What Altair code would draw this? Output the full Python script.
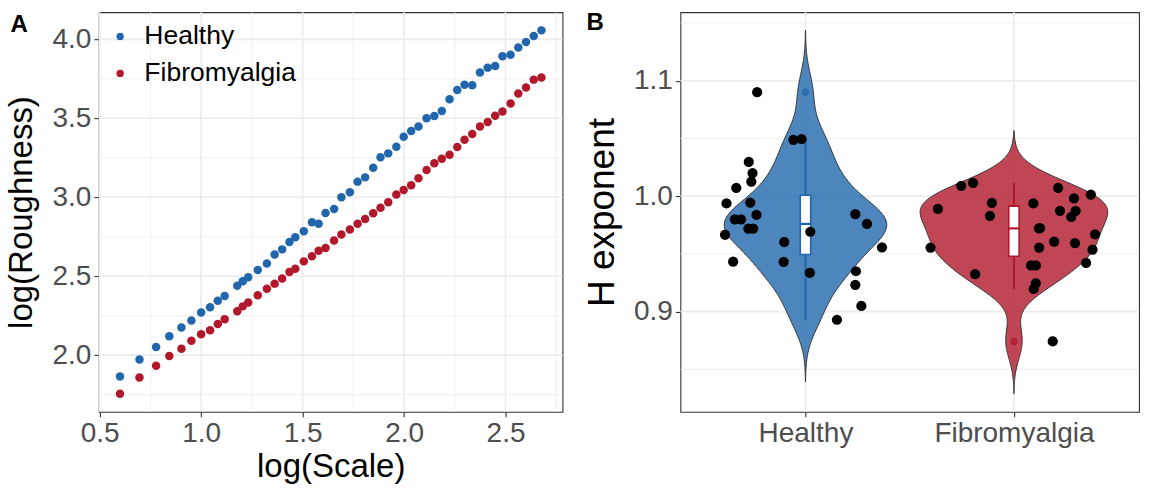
import numpy as np
import pandas as pd
import altair as alt

FONT = "Liberation Sans"
groups = ["Healthy", "Fibromyalgia"]
group_colors = ["#2166AC", "#B2182B"]

# ---- Panel A: roughness against observation scale (log-log) ----
log_scale = [0.600, 0.696, 0.778, 0.843, 0.903, 0.952, 1.000, 1.044, 1.082, 1.116,
             1.178, 1.205, 1.232, 1.279, 1.324, 1.362, 1.399, 1.435, 1.464, 1.506,
             1.546, 1.579, 1.613, 1.655, 1.691, 1.733, 1.771, 1.808, 1.848, 1.884,
             1.922, 1.962, 1.998, 2.035, 2.071, 2.111, 2.149, 2.186, 2.224, 2.262,
             2.298, 2.336, 2.374, 2.412, 2.449, 2.485, 2.525, 2.563, 2.601, 2.639, 2.677]
rough_healthy = [1.865, 1.973, 2.051, 2.120, 2.175, 2.219, 2.270, 2.303, 2.345, 2.375,
                 2.440, 2.468, 2.493, 2.540, 2.580, 2.638, 2.670, 2.716, 2.747, 2.785,
                 2.842, 2.832, 2.900, 2.926, 3.000, 3.032, 3.099, 3.126, 3.187, 3.253,
                 3.278, 3.320, 3.383, 3.419, 3.448, 3.501, 3.514, 3.547, 3.621, 3.680,
                 3.712, 3.710, 3.790, 3.821, 3.832, 3.893, 3.903, 3.949, 3.983, 4.021, 4.057]
rough_fibro = [1.756, 1.859, 1.933, 1.994, 2.040, 2.091, 2.133, 2.158, 2.198, 2.227,
               2.278, 2.309, 2.333, 2.379, 2.421, 2.453, 2.486, 2.526, 2.547, 2.594,
               2.627, 2.661, 2.678, 2.726, 2.764, 2.796, 2.832, 2.863, 2.899, 2.933,
               2.968, 3.017, 3.046, 3.076, 3.120, 3.173, 3.215, 3.244, 3.269, 3.318,
               3.364, 3.400, 3.448, 3.476, 3.516, 3.543, 3.594, 3.657, 3.695, 3.745, 3.758]

a_x_major = [0.5, 1.0, 1.5, 2.0, 2.5]
a_x_minor = [0.75, 1.25, 1.75, 2.25, 2.75]
a_y_major = [2.0, 2.5, 3.0, 3.5, 4.0]
a_y_minor = [1.75, 2.25, 2.75, 3.25, 3.75]

# ---- Panel B: Hurst exponent per participant ----
h_healthy = [1.090, 1.0488, 1.0494, 1.0297, 1.020, 1.0127, 1.0072, 0.9937, 0.9945,
             0.980, 0.980, 0.9838, 0.972, 0.972, 0.9665, 0.9433, 0.9603, 0.9432,
             0.9692, 0.9336, 0.9844, 0.976, 0.9556, 0.935, 0.9233, 0.905, 0.893]
jit_healthy = [-0.232, -0.058, -0.019, -0.272, -0.254, -0.260, -0.332, -0.379, -0.265,
               -0.339, -0.309, -0.235, -0.274, -0.251, -0.386, -0.347, -0.102, -0.105,
               0.023, 0.021, 0.239, 0.295, 0.367, 0.242, 0.239, 0.268, 0.151]
h_fibro = [1.009, 1.0115, 0.989, 0.9555, 0.9942, 0.983, 0.9325, 1.0072, 1.0014, 0.998,
           0.9937, 0.9873, 0.9873, 0.982, 0.9723, 0.9721, 0.967, 0.9607, 0.9593, 0.9555,
           0.9537, 0.9422, 0.940, 0.940, 0.9246, 0.9197, 0.8742]
jit_fibro = [-0.253, -0.196, -0.365, -0.400, -0.106, -0.115, -0.186, 0.212, 0.369, 0.288,
             0.093, 0.221, 0.296, 0.275, 0.125, 0.120, 0.389, 0.193, 0.293, 0.121,
             0.377, 0.346, 0.082, 0.105, 0.105, 0.095, 0.186]

b_y_major = [0.9, 1.0, 1.1]
b_y_minor = [0.85, 0.95, 1.05, 1.15]
b_x_major = [1, 2]

GRID = "#EBEBEB"
DARK = "#333333"
TICK_LABEL = "#4D4D4D"


def expand(lo, hi, f=0.05):
    d = (hi - lo) * f
    return [lo - d, hi + d]


def nrd0(v):
    v = np.asarray(v)
    q1, q3 = np.percentile(v, [25, 75])
    s = min(np.std(v, ddof=1), (q3 - q1) / 1.34)
    return 0.9 * s * len(v) ** -0.2


def axis(title, values, title_size=33, title_pad=6, label_size=28, **kw):
    return alt.Axis(title=title, values=values, grid=False, domain=False, labelFlush=False,
                    tickColor=DARK, tickSize=5, tickWidth=1.1,
                    labelFont=FONT, labelFontSize=label_size, labelColor=TICK_LABEL, labelPadding=3,
                    titleFont=FONT, titleFontSize=title_size, titleFontWeight="normal",
                    titleColor="black", titlePadding=title_pad, **kw)


def grid_rules(values, channel, scale, ax, width):
    df = pd.DataFrame({"v": values})
    if channel == "x":
        enc = {"x": alt.X("v:Q", scale=scale, axis=ax)}
    else:
        enc = {"y": alt.Y("v:Q", scale=scale, axis=ax)}
    return alt.Chart(df).mark_rule(color=GRID, strokeWidth=width).encode(**enc)


def panel_tag(letter, dx, dy):
    return alt.Chart(pd.DataFrame({"tag": [letter]})).mark_text(
        font=FONT, fontSize=24, fontWeight="bold", align="left", baseline="alphabetic",
        color="black"
    ).encode(x=alt.value(dx), y=alt.value(dy), text="tag:N")


# ----- Panel A -----
dfA = pd.DataFrame({
    "scale": log_scale * 2,
    "rough": rough_healthy + rough_fibro,
    "group": [groups[0]] * len(rough_healthy) + [groups[1]] * len(rough_fibro),
})
all_rough = rough_healthy + rough_fibro
xA = alt.Scale(domain=expand(min(log_scale), max(log_scale)), nice=False, zero=False)
yA = alt.Scale(domain=expand(min(all_rough), max(all_rough)), nice=False, zero=False)
axAx = axis("log(Scale)", a_x_major, title_pad=3, format=".1f")
axAy = axis("log(Roughness)", a_y_major, title_pad=14, format=".1f")

pointsA = alt.Chart(dfA).mark_circle(size=72, opacity=1).encode(
    x=alt.X("scale:Q", scale=xA, axis=axAx),
    y=alt.Y("rough:Q", scale=yA, axis=axAy),
    color=alt.Color("group:N", scale=alt.Scale(domain=groups, range=group_colors),
                    legend=alt.Legend(title=None, orient="none", legendX=8, legendY=11,
                                      labelFont=FONT, labelFontSize=26.5, labelColor="black",
                                      symbolType="circle", symbolSize=55, labelOffset=11,
                                      rowPadding=10, padding=0)),
)

panelA = alt.layer(
    grid_rules(a_x_minor, "x", xA, axAx, 0.8),
    grid_rules(a_y_minor, "y", yA, axAy, 0.8),
    grid_rules(a_x_major, "x", xA, axAx, 1.6),
    grid_rules(a_y_major, "y", yA, axAy, 1.6),
    pointsA,
    panel_tag("A", -88.5, 19.5),
).properties(width=464, height=400)

# ----- Panel B -----
pos = {groups[0]: 1, groups[1]: 2}
values = {groups[0]: h_healthy, groups[1]: h_fibro}
jitter = {groups[0]: jit_healthy, groups[1]: jit_fibro}

dfB = pd.DataFrame({
    "group": [g for g in groups for _ in values[g]],
    "h": [v for g in groups for v in values[g]],
    "xj": [pos[g] + j for g in groups for j in jitter[g]],
})

bws = {g: nrd0(values[g]) for g in groups}
extents = {g: [min(values[g]) - 3 * bws[g], max(values[g]) + 3 * bws[g]] for g in groups}


def kde_peak(v, bw, ext):
    grid = np.linspace(ext[0], ext[1], 512)
    v = np.asarray(v)
    d = np.exp(-0.5 * ((grid[:, None] - v[None, :]) / bw) ** 2).sum(axis=1)
    return (d / (len(v) * bw * np.sqrt(2 * np.pi))).max()


peak = max(kde_peak(values[g], bws[g], extents[g]) for g in groups)
half_scale = 0.45 / peak  # equal-area violins, widest one spans 0.9

xB = alt.Scale(domain=[0.4, 2.6], nice=False, zero=False)
yB = alt.Scale(domain=expand(min(e[0] for e in extents.values()), max(e[1] for e in extents.values())),
               nice=False, zero=False)

label_expr = " : ".join(f"datum.value == {pos[g]} ? '{g}'" for g in groups) + " : ''"
axBx = axis(None, b_x_major, labelExpr=label_expr)
axBy = axis("H exponent", b_y_major, title_size=37, title_pad=12, format=".1f")

violins = []
for g, col in zip(groups, group_colors):
    violins.append(
        alt.Chart(dfB).transform_filter(alt.datum.group == g)
        .transform_density("h", as_=["h", "density"], bandwidth=bws[g], extent=extents[g], steps=256)
        .transform_calculate(left=f"{pos[g]} - datum.density * {half_scale}",
                             right=f"{pos[g]} + datum.density * {half_scale}")
        .mark_area(orient="horizontal", color=col, fillOpacity=0.8, stroke=DARK, strokeWidth=1)
        .encode(y=alt.Y("h:Q", scale=yB, axis=axBy),
                x=alt.X("left:Q", scale=xB, axis=axBx), x2="right:Q")
    )

# boxplot statistics (quartiles with linear interpolation, 1.5 IQR whiskers)
rows, outliers = [], []
for g in groups:
    v = np.asarray(values[g])
    q1, med, q3 = np.percentile(v, [25, 50, 75])
    iqr = q3 - q1
    inside = v[(v >= q1 - 1.5 * iqr) & (v <= q3 + 1.5 * iqr)]
    rows.append({"group": g, "x": pos[g], "xl": pos[g] - 0.025, "xr": pos[g] + 0.025,
                 "q1": q1, "med": med, "q3": q3, "lo": inside.min(), "hi": inside.max()})
    for o in v[(v < q1 - 1.5 * iqr) | (v > q3 + 1.5 * iqr)]:
        outliers.append({"group": g, "x": pos[g], "h": o})
stats = pd.DataFrame(rows)
outl = pd.DataFrame(outliers)
col_scale = alt.Scale(domain=groups, range=group_colors)

whisk = alt.Chart(stats).mark_rule(strokeWidth=2).encode(
    x=alt.X("x:Q", scale=xB, axis=axBx), y=alt.Y("lo:Q", scale=yB, axis=axBy), y2="hi:Q",
    color=alt.Color("group:N", scale=col_scale, legend=None))
box = alt.Chart(stats).mark_rect(fill="white", strokeWidth=1.6).encode(
    x=alt.X("xl:Q", scale=xB, axis=axBx), x2="xr:Q",
    y=alt.Y("q1:Q", scale=yB, axis=axBy), y2="q3:Q",
    stroke=alt.Stroke("group:N", scale=col_scale, legend=None))
median = alt.Chart(stats).mark_rule(strokeWidth=2.2).encode(
    x=alt.X("xl:Q", scale=xB, axis=axBx), x2="xr:Q", y=alt.Y("med:Q", scale=yB, axis=axBy),
    color=alt.Color("group:N", scale=col_scale, legend=None))
outl_pts = alt.Chart(outl).mark_circle(size=55, opacity=0.8).encode(
    x=alt.X("x:Q", scale=xB, axis=axBx), y=alt.Y("h:Q", scale=yB, axis=axBy),
    color=alt.Color("group:N", scale=col_scale, legend=None))

pointsB = alt.Chart(dfB).mark_circle(size=105, color="black", opacity=1).encode(
    x=alt.X("xj:Q", scale=xB, axis=axBx),
    y=alt.Y("h:Q", scale=yB, axis=axBy),
)

panelB = alt.layer(
    grid_rules(b_y_minor, "y", yB, axBy, 0.8),
    grid_rules(b_y_major, "y", yB, axBy, 1.6),
    grid_rules(b_x_major, "x", xB, axBx, 1.6),
    *violins,
    whisk, box, median, outl_pts,
    pointsB,
    panel_tag("B", -94, 18),
).properties(width=459, height=400)

chart = alt.hconcat(panelA, panelB, spacing=18).properties(
    padding={"left": 4, "top": 10, "right": 12, "bottom": 0}, background="white"
).configure_view(stroke=DARK, strokeWidth=1.1).resolve_scale(color="independent")

chart.save("out.html", embed_options={"renderer": "svg", "actions": False})
